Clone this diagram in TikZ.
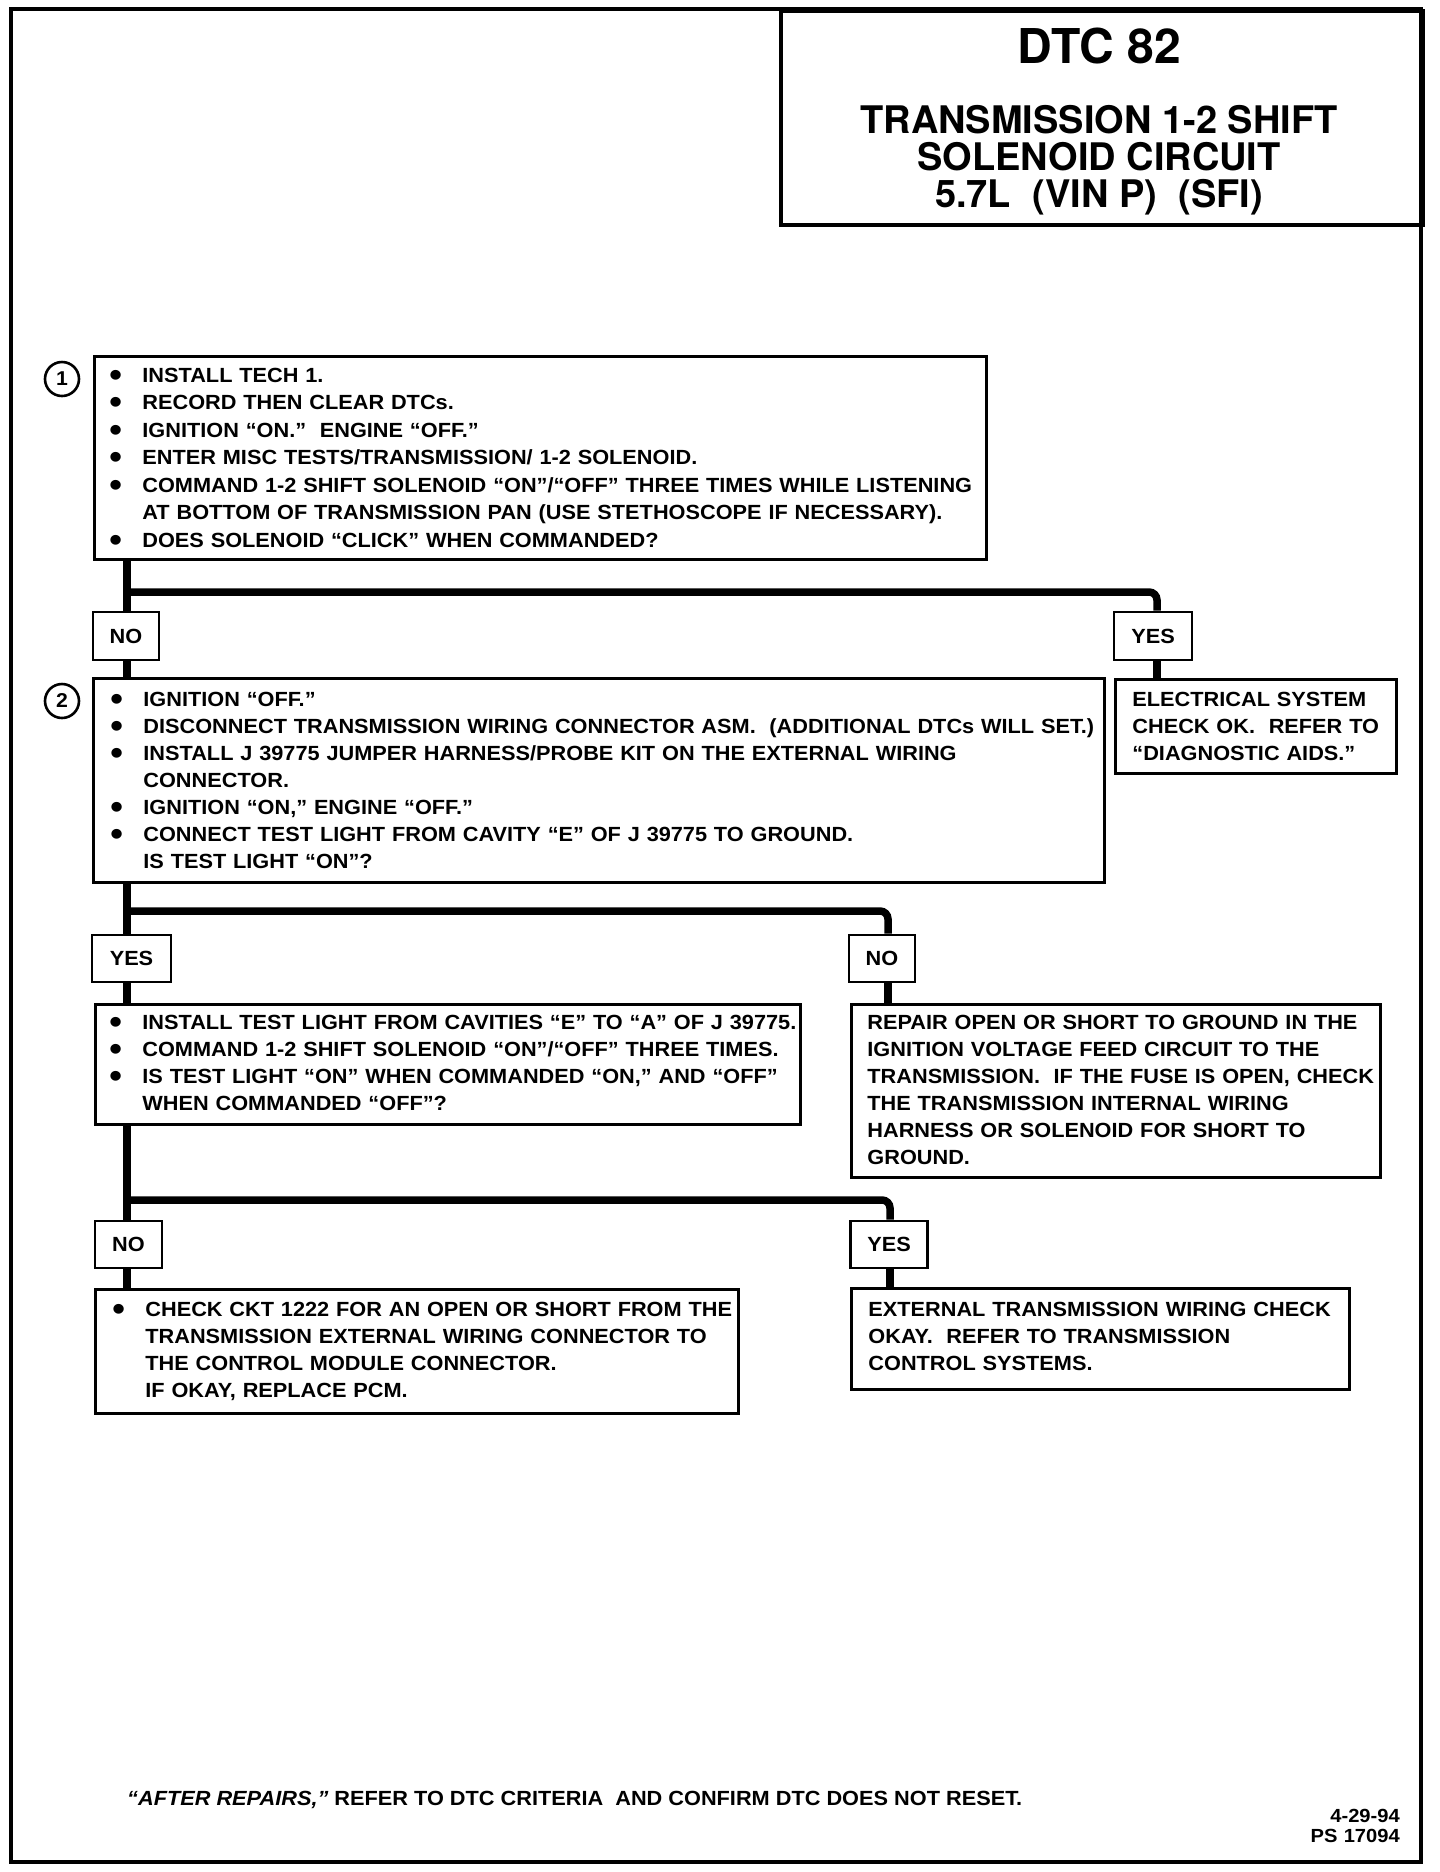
\documentclass[tikz,border=0pt]{standalone}
\usepackage{fontspec}
\setmainfont{Liberation Sans}[FakeStretch=1.06]
\newfontfamily\titlefont{TeX Gyre Heros}
\newcommand\bodyfs{\bfseries\fontsize{20.5}{27}\selectfont}
\newcommand\bodyfsB{\bfseries\fontsize{20.5}{27.5}\selectfont}
\newcommand\tsp{\hspace{0.28em}}
\newcommand\bl{\makebox[33pt][l]{\smash{\raisebox{-4pt}{\fontsize{34}{27}\selectfont\textbullet}}}}
\newcommand\bi[1]{\mbox{\bl#1}}
\newcommand\ci[1]{\mbox{\hspace*{33pt}#1}}
\tikzset{
  box/.style={draw, line width=2.8pt, inner ysep=0pt, anchor=north west, align=left, font=\bodyfs},
  lbl/.style={draw, line width=2.8pt, fill=white, inner sep=0pt, font=\bodyfs},
  conn/.style={line width=7.5pt, line cap=butt},
  num/.style={draw, circle, line width=2.6pt, minimum size=34pt, inner sep=0pt, font=\bfseries\fontsize{20}{20}\selectfont},
  ttl/.style={anchor=base, inner sep=0pt, font=\titlefont\bfseries\fontsize{38}{38}\selectfont},
}
\begin{document}
\begin{tikzpicture}[x=1pt,y=-1pt]
\useasboundingbox (0,0) rectangle (1440,1872);
\draw[line width=4.5pt] (11,9) rectangle (1421,1862);

% title
\node[draw, line width=3.5pt, anchor=north west, inner sep=0pt,
      minimum width=642pt, minimum height=214pt] (title) at (779,9) {};
\node[ttl, font=\titlefont\bfseries\fontsize{48}{48}\selectfont] (t1) at (1099,63) {DTC\tsp 82};
\node[ttl] (t2) at (1099,133) {TRANSMISSION\tsp 1-2\tsp SHIFT};
\node[ttl] (t3) at (1099,170) {SOLENOID\tsp CIRCUIT};
\node[ttl] (t4) at (1099,207) {5.7L\tsp\tsp (VIN\tsp P)\tsp\tsp (SFI)};

% step 1
\node[num] (n1) at (62,379) {1};
\node[box, font=\bodyfsB, inner xsep=15pt, text width=862pt, text height=26pt, text depth=177pt] (box1) at (93,355)
  {\bi{INSTALL TECH 1.}\\
   \bi{RECORD THEN CLEAR DTCs.}\\
   \bi{IGNITION “ON.”\ \ ENGINE “OFF.”}\\
   \bi{ENTER MISC TESTS/TRANSMISSION/ 1-2 SOLENOID.}\\
   \bi{COMMAND 1-2 SHIFT SOLENOID “ON”/“OFF” THREE TIMES WHILE LISTENING}\\
   \ci{AT BOTTOM OF TRANSMISSION PAN (USE STETHOSCOPE IF NECESSARY).}\\
   \bi{DOES SOLENOID “CLICK” WHEN COMMANDED?}};

\node[lbl, minimum width=66pt, minimum height=48pt] (no1) at (126,636) {NO};
\node[lbl, minimum width=78pt, minimum height=48pt] (yes1) at (1153,636) {YES};

% step 2
\node[num] (n2) at (62,701) {2};
\node[box, inner xsep=17pt, text width=977pt, text height=28pt, text depth=176pt] (box2) at (92,677)
  {\bi{IGNITION “OFF.”}\\
   \bi{DISCONNECT TRANSMISSION WIRING CONNECTOR ASM.\ \ (ADDITIONAL DTCs WILL SET.)}\\
   \bi{INSTALL J 39775 JUMPER HARNESS/PROBE KIT ON THE EXTERNAL WIRING}\\
   \ci{CONNECTOR.}\\
   \bi{IGNITION “ON,” ENGINE “OFF.”}\\
   \bi{CONNECT TEST LIGHT FROM CAVITY “E” OF J 39775 TO GROUND.}\\
   \ci{IS TEST LIGHT “ON”?}};

\node[box, inner xsep=17pt, text width=247pt, text height=27pt, text depth=67pt] (elec) at (1114,678)
  {\mbox{ELECTRICAL SYSTEM}\\
   \mbox{CHECK OK.\ \ REFER TO}\\
   \mbox{“DIAGNOSTIC AIDS.”}};

\node[lbl, minimum width=79pt, minimum height=47pt] (yes2) at (131.5,958.5) {YES};
\node[lbl, minimum width=66pt, minimum height=47pt] (no2) at (882,958.5) {NO};

% step 3
\node[box, inner xsep=14pt, text width=677pt, text height=25pt, text depth=95pt] (box3) at (94,1003)
  {\bi{INSTALL TEST LIGHT FROM CAVITIES “E” TO “A” OF J 39775.}\\
   \bi{COMMAND 1-2 SHIFT SOLENOID “ON”/“OFF” THREE TIMES.}\\
   \bi{IS TEST LIGHT “ON” WHEN COMMANDED “ON,” AND “OFF”}\\
   \ci{WHEN COMMANDED “OFF”?}};

\node[box, inner xsep=16pt, text width=497pt, text height=25pt, text depth=148pt] (repair) at (850,1003)
  {\mbox{REPAIR OPEN OR SHORT TO GROUND IN THE}\\
   \mbox{IGNITION VOLTAGE FEED CIRCUIT TO THE}\\
   \mbox{TRANSMISSION.\ \ IF THE FUSE IS OPEN, CHECK}\\
   \mbox{THE TRANSMISSION INTERNAL WIRING}\\
   \mbox{HARNESS OR SOLENOID FOR SHORT TO}\\
   \mbox{GROUND.}};

\node[lbl, minimum width=67pt, minimum height=47pt] (no3) at (128.5,1244.5) {NO};
\node[lbl, minimum width=77pt, minimum height=47pt] (yes3) at (889,1244.5) {YES};

% step 4
\node[box, inner xsep=17pt, text width=609pt, text height=27pt, text depth=97pt] (check) at (94,1288)
  {\bi{CHECK CKT 1222 FOR AN OPEN OR SHORT FROM THE}\\
   \ci{TRANSMISSION EXTERNAL WIRING CONNECTOR TO}\\
   \ci{THE CONTROL MODULE CONNECTOR.}\\
   \ci{IF OKAY, REPLACE PCM.}};

\node[box, inner xsep=17pt, text width=464pt, text height=28pt, text depth=73pt] (ext) at (850,1287)
  {\mbox{EXTERNAL TRANSMISSION WIRING CHECK}\\
   \mbox{OKAY.\ \ REFER TO TRANSMISSION}\\
   \mbox{CONTROL SYSTEMS.}};

% connectors
\coordinate (tL) at (127,0);
\coordinate (tR1) at (1157,0);
\coordinate (tR2) at (888,0);
\coordinate (tR3) at (890,0);
\coordinate (j1) at (0,592);
\coordinate (j2) at (0,911);
\coordinate (j3) at (0,1200);

\draw[conn] (box1.south -| tL) -- (no1.north -| tL);
\draw[conn] (no1.south -| tL) -- (box2.north -| tL);
\draw[conn, rounded corners=8pt] (j1 -| tL) -- (j1 -| tR1) -- (yes1.north -| tR1);
\draw[conn] (yes1.south -| tR1) -- (elec.north -| tR1);

\draw[conn] (box2.south -| tL) -- (yes2.north -| tL);
\draw[conn] (yes2.south -| tL) -- (box3.north -| tL);
\draw[conn, rounded corners=8pt] (j2 -| tL) -- (j2 -| tR2) -- (no2.north -| tR2);
\draw[conn] (no2.south -| tR2) -- (repair.north -| tR2);

\draw[conn] (box3.south -| tL) -- (no3.north -| tL);
\draw[conn] (no3.south -| tL) -- (check.north -| tL);
\draw[conn, rounded corners=8pt] (j3 -| tL) -- (j3 -| tR3) -- (yes3.north -| tR3);
\draw[conn] (yes3.south -| tR3) -- (ext.north -| tR3);

% footer
\node[anchor=base west, inner sep=0pt, font=\bodyfs] (foot) at (127,1805)
  {\textit{“AFTER REPAIRS,”} REFER TO DTC CRITERIA\ \ AND CONFIRM DTC DOES NOT RESET.};
\node[anchor=base east, inner sep=0pt, text width=120pt, align=right,
      font=\bfseries\fontsize{19}{20}\selectfont] (date) at (1400,1822)
  {4-29-94\\PS 17094};
\end{tikzpicture}
\end{document}
